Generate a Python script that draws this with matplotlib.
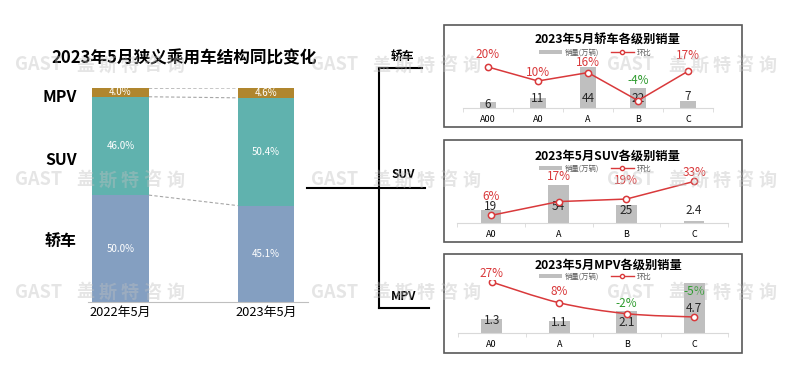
import matplotlib
matplotlib.use('Agg')
import matplotlib.pyplot as plt
from matplotlib.lines import Line2D
from matplotlib.patches import Rectangle, Patch, PathPatch
from matplotlib.path import Path
import numpy as np

plt.rcParams['font.family'] = ['Noto Sans CJK SC', 'DejaVu Sans']

W, H = 800, 382

# ---- left: segment share, May 2022 vs May 2023 ----
years = ['2022年5月', '2023年5月']
share_sedan = [50.0, 45.1]
share_suv = [46.0, 50.4]
share_mpv = [4.0, 4.6]

# ---- right: sales by class (万辆) and month-on-month change (%) ----
sedan_cls = ['A00', 'A0', 'A', 'B', 'C']
sedan_sales = [6, 11, 44, 22, 7]
sedan_mom = [20, 10, 16, -4, 17]

suv_cls = ['A0', 'A', 'B', 'C']
suv_sales = [19, 54, 25, 2.4]
suv_mom = [6, 17, 19, 33]

mpv_cls = ['A0', 'A', 'B', 'C']
mpv_sales = [1.3, 1.1, 2.1, 4.7]
mpv_mom = [27, 8, -2, -5]

C_SEDAN = '#849FC1'
C_SUV = '#60B2AE'
C_MPV = '#B0862E'
C_BAR = '#BFBFBF'
C_RED = '#D9393B'
C_GREEN = '#2E9B2E'


def fx(px):
    return px / W


def fy(py):
    return 1 - py / H


def axes_px(fig, x0, y0, x1, y1):
    return fig.add_axes([x0 / W, 1 - y1 / H, (x1 - x0) / W, (y1 - y0) / H])


fig = plt.figure(figsize=(W / 100, H / 100), dpi=100)
fig.patch.set_facecolor('white')

# ---- left stacked bars ----
ax = axes_px(fig, 88, 88, 308, 302)
x = np.arange(len(years))
bw = 0.39
bottom = np.zeros(len(years))
levels = []
for vals, col in [(share_sedan, C_SEDAN), (share_suv, C_SUV), (share_mpv, C_MPV)]:
    vals = np.array(vals)
    ax.bar(x, vals, bw, bottom=bottom, color=col, zorder=2)
    for xi, b, v in zip(x, bottom, vals):
        ax.text(xi, b + v / 2, f'{v:.1f}%', ha='center', va='center',
                color='white', fontsize=7, zorder=3)
    bottom = bottom + vals
    levels.append(bottom.copy())

# dashed connectors between the segment boundaries
for lv in levels:
    ax.plot([x[0] + bw / 2, x[1] - bw / 2], [lv[0], lv[1]],
            ls=(0, (3, 2)), color='#A6A6A6', lw=0.8, zorder=1)

ax.set_xlim(-0.223, 1.289)
ax.set_ylim(0, 100.1)
ax.set_xticks(x)
ax.set_xticklabels(years, fontsize=9.3)
ax.tick_params(axis='x', length=0, pad=3)
ax.set_yticks([])
for s in ['top', 'right', 'left']:
    ax.spines[s].set_visible(False)
ax.spines['bottom'].set_color('#BFBFBF')

fig.text(fx(184), fy(58), '2023年5月狭义乘用车结构同比变化', ha='center', va='center',
         fontsize=12, fontweight='bold')
for lab, py in [('MPV', 97), ('SUV', 160), ('轿车', 242)]:
    fig.text(fx(77), fy(py), lab, ha='right', va='center', fontsize=11.5,
             fontweight='bold')

# ---- bracket ----
for (xa, ya, xb, yb) in [(307, 188, 425, 188), (379, 68, 379, 308),
                         (379, 68, 422, 68), (379, 308, 429, 308)]:
    fig.add_artist(Line2D([fx(xa), fx(xb)], [fy(ya), fy(yb)], color='black', lw=1.5))
for lab, px, py in [('轿车', 402, 56), ('SUV', 403, 174), ('MPV', 404, 297)]:
    fig.text(fx(px), fy(py), lab, ha='center', va='center', fontsize=8.5,
             fontweight='bold')


# ---- right panels ----
def draw_panel(box, plot, title, title_y, legend_y, cats, sales, mom,
               bar_ylim, line_ylim, bar_w, bar_off, mom_off, smooth=False):
    fig.add_artist(Rectangle((fx(box[0]), fy(box[3])), (box[2] - box[0]) / W,
                             (box[3] - box[1]) / H, transform=fig.transFigure,
                             fill=False, ec='#595959', lw=1.2))
    a = axes_px(fig, *plot)
    a.patch.set_alpha(0)
    xs = np.arange(len(cats))
    a.bar(xs, sales, bar_w, color=C_BAR, zorder=1)
    a.set_xlim(-0.5, len(cats) - 0.5)
    a.set_ylim(*bar_ylim)
    a.set_yticks([])
    a.set_xticks(xs)
    a.set_xticklabels(cats, fontsize=6.5)
    a.set_xticks(np.arange(len(cats) + 1) - 0.5, minor=True)
    a.tick_params(axis='x', which='major', length=0, pad=5)
    a.tick_params(axis='x', which='minor', length=3, color='#D9D9D9')
    for s in ['top', 'right', 'left']:
        a.spines[s].set_visible(False)
    a.spines['bottom'].set_color('#D9D9D9')

    for xi, v, off in zip(xs, sales, bar_off):
        a.annotate(f'{v:g}', (xi, 0), xytext=(0, off * 0.72), textcoords='offset points',
                   ha='center', va='center', fontsize=8.5, color='#262626', zorder=5)

    a2 = a.twinx()
    a2.set_ylim(*line_ylim)
    a2.set_yticks([])
    for s in a2.spines.values():
        s.set_visible(False)
    if smooth:
        # smoothed line (Excel style): bezier segments through the points
        pts = np.column_stack([xs, mom]).astype(float)
        verts = [pts[0]]
        codes = [Path.MOVETO]
        n = len(pts)
        for i in range(n - 1):
            p0 = pts[max(i - 1, 0)]
            p1 = pts[i]
            p2 = pts[i + 1]
            p3 = pts[min(i + 2, n - 1)]
            verts += [p1 + (p2 - p0) / 6, p2 - (p3 - p1) / 6, p2]
            codes += [Path.CURVE4] * 3
        a2.add_patch(PathPatch(Path(verts, codes), fill=False, ec=C_RED, lw=1.1, zorder=2))
        a2.plot(xs, mom, ls='none', marker='o', ms=4.5, mfc='white', mec=C_RED,
                mew=1.1, zorder=3)
    else:
        a2.plot(xs, mom, color=C_RED, lw=1.1, marker='o', ms=4.5, mfc='white',
                mec=C_RED, mew=1.1, zorder=3)
    for xi, m, off in zip(xs, mom, mom_off):
        a2.annotate(f'{m}%', (xi, m), xytext=(0, off * 0.72), textcoords='offset points',
                    ha='center', va='center', fontsize=8.5,
                    color=C_RED if m >= 0 else C_GREEN, zorder=5)

    fig.text(fx(608), fy(title_y), title, ha='center', va='center', fontsize=8.8,
             fontweight='bold')
    handles = [Patch(facecolor=C_BAR, edgecolor='none'),
               Line2D([], [], color=C_RED, lw=1, marker='o', ms=3, mfc='white', mec=C_RED)]
    a2.legend(handles, ['销量(万辆)', '环比'], loc='center',
              bbox_to_anchor=(fx(595), fy(legend_y)), bbox_transform=fig.transFigure,
              ncol=2, fontsize=5.3, frameon=False, handlelength=3.2,
              handleheight=0.45, columnspacing=1.6, handletextpad=0.3,
              labelcolor='#595959')


draw_panel((444, 25, 742, 127), (463, 60, 713, 108), '2023年5月轿车各级别销量', 40, 52.5,
           sedan_cls, sedan_sales, sedan_mom, (0, 51.6), (-9.3, 25),
           0.32, [4, 9, 9, 9, 12], [12, 8, 10, 20, 16])
draw_panel((444, 140, 742, 242), (457, 175, 728, 223), '2023年5月SUV各级别销量', 156, 168.5,
           suv_cls, suv_sales, suv_mom, (0, 67.6), (0, 38.1),
           0.30, [16, 16, 13, 12], [19, 25, 19, 9])
draw_panel((444, 254, 742, 353), (458, 280, 728, 333), '2023年5月MPV各级别销量', 265, 276.5,
           mpv_cls, mpv_sales, mpv_mom, (0, 5.0), (-19.7, 28.9),
           0.31, [12, 11, 11, 24], [9, 11, 10, 25], smooth=True)

# ---- watermark ----
for row_y in [65, 180, 292]:
    for x0 in [15, 311, 607]:
        fig.text(fx(x0), fy(row_y), 'GAST', ha='left', va='center', fontsize=13,
                 fontweight='bold', color='#C0C0C0', alpha=0.4, zorder=20)
        for k, ch in enumerate('盖斯特咨询'):
            fig.text(fx(x0 + 61 + 22.5 * k), fy(row_y), ch, ha='left', va='center',
                     fontsize=13, fontweight='bold', color='#C0C0C0', alpha=0.4,
                     zorder=20)

fig.savefig('out.png', dpi=100)
